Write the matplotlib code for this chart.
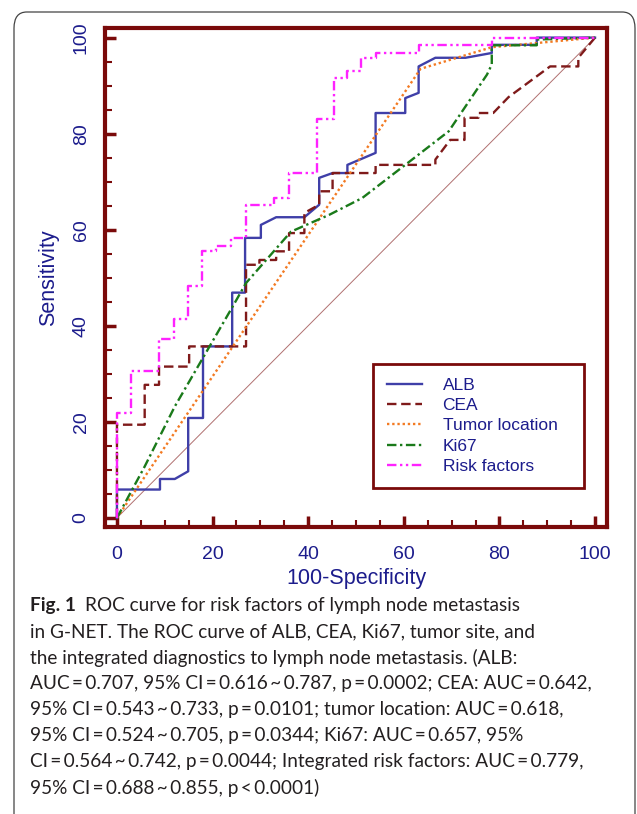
import numpy as np
import matplotlib.pyplot as plt
from matplotlib.patches import FancyBboxPatch

# ROC curves (x = 100-Specificity, y = Sensitivity)
alb_x = [0, 0, 9.0, 9.0, 12.1, 14.9, 14.9, 18.0, 18.0, 24.1, 24.1, 26.8, 26.8, 30.1, 30.1, 33.3, 39.2, 42.3, 42.3,
         45.1, 48.2, 48.2, 54.1, 54.1, 60.3, 60.3, 63.1, 63.1, 66.6, 72.9, 78.4, 78.4, 87.8, 87.8, 100]
alb_y = [0, 5.9, 5.9, 8.1, 8.1, 9.7, 20.8, 20.8, 35.7, 35.7, 46.9, 46.9, 58.3, 58.3, 61.0, 62.6, 62.6, 65.2, 70.8,
         71.8, 71.8, 73.5, 76.0, 84.3, 84.3, 87.4, 88.5, 94.0, 95.8, 95.8, 96.8, 98.5, 98.5, 100, 100]

cea_x = [0, 0, 5.8, 5.8, 8.8, 8.8, 15.1, 15.1, 27.0, 27.0, 29.8, 29.8, 33.3, 33.3, 36.0, 36.0, 39.2, 39.2, 42.3,
         42.3, 45.1, 45.1, 54.1, 54.1, 66.6, 66.6, 69.7, 72.7, 72.7, 75.6, 75.6, 78.7, 81.9, 90.6, 96.5, 96.5, 100]
cea_y = [0, 19.4, 19.4, 27.7, 27.7, 31.5, 31.5, 35.7, 35.7, 52.7, 52.7, 53.7, 53.7, 55.5, 55.5, 59.3, 59.3, 63.5,
         65.2, 68.0, 68.0, 71.8, 71.8, 73.5, 73.5, 74.6, 78.7, 78.7, 83.3, 83.3, 84.3, 84.3, 87.6, 94.0, 94.0, 95.8, 100]

tumor_x = [0, 63.5, 78.4, 100]
tumor_y = [0, 93.5, 98.0, 100]

ki67_x = [0, 5.8, 12.1, 24.2, 27.0, 36.4, 44.4, 51.3, 60.3, 69.4, 77.4, 78.4, 78.4, 87.8, 87.8, 100]
ki67_y = [0, 10.7, 23.2, 44.0, 48.9, 59.6, 63.1, 66.6, 73.5, 80.5, 92.3, 94.4, 98.4, 98.4, 99.6, 100]

risk_x = [0, 0, 2.85, 2.85, 8.8, 8.8, 11.9, 11.9, 14.9, 14.9, 17.8, 17.8, 20.8, 20.8, 23.9, 23.9, 27.0, 27.0, 32.9,
          32.9, 36.0, 36.0, 41.9, 41.9, 45.4, 45.4, 48.2, 48.2, 51.0, 51.0, 54.1, 54.1, 63.1, 63.1, 78.4, 78.4, 100]
risk_y = [0, 21.8, 21.8, 30.5, 30.5, 37.2, 37.2, 41.4, 41.4, 48.3, 48.3, 55.5, 55.5, 56.7, 56.7, 58.3, 58.3, 65.2,
          65.2, 66.5, 66.5, 71.8, 71.8, 83.1, 83.1, 91.6, 91.6, 93.0, 93.0, 95.8, 95.8, 96.8, 96.8, 98.5, 98.5, 100, 100]

caption = [
    "ROC curve for risk factors of lymph node metastasis",
    "in G-NET. The ROC curve of ALB, CEA, Ki67, tumor site, and",
    "the integrated diagnostics to lymph node metastasis. (ALB:",
    "AUC\u2009=\u20090.707, 95% CI\u2009=\u20090.616\u2009~\u20090.787, p\u2009=\u20090.0002; CEA: AUC\u2009=\u20090.642,",
    "95% CI\u2009=\u20090.543\u2009~\u20090.733, p\u2009=\u20090.0101; tumor location: AUC\u2009=\u20090.618,",
    "95% CI\u2009=\u20090.524\u2009~\u20090.705, p\u2009=\u20090.0344; Ki67: AUC\u2009=\u20090.657, 95%",
    "CI\u2009=\u20090.564\u2009~\u20090.742, p\u2009=\u20090.0044; Integrated risk factors: AUC\u2009=\u20090.779,",
    "95% CI\u2009=\u20090.688\u2009~\u20090.855, p\u2009<\u20090.0001)",
]

plt.rcParams['font.family'] = ['Liberation Sans', 'DejaVu Sans']
spine_col = '#7a0a0a'
txt_col = '#1c1c8c'

fig = plt.figure(figsize=(6.37, 8.14), dpi=100)

# rounded frame around the figure
frame = FancyBboxPatch((14 / 637, -0.05), 621 / 637, 1.05 - 12 / 814,
                       boxstyle="round,pad=0,rounding_size=0.02", transform=fig.transFigure,
                       fill=False, edgecolor='#444444', linewidth=0.9)
fig.patches.append(frame)

ax = fig.add_axes([105 / 637, 1 - 527 / 814, 502 / 637, 499 / 814])
ax.plot([0, 100], [0, 100], color='#b07070', linewidth=0.7)
ax.plot(alb_x, alb_y, color='#3f3fa8', linewidth=1.7, label='ALB')
ax.plot(cea_x, cea_y, color='#7f1a1a', linewidth=1.7, linestyle=(0, (4, 2)), label='CEA')
ax.plot(tumor_x, tumor_y, color='#f37a22', linewidth=1.7, linestyle=(0, (1, 1.2)), label='Tumor location')
ax.plot(ki67_x, ki67_y, color='#1a7a1a', linewidth=1.7, linestyle=(0, (4, 1.5, 1, 1.5)), label='Ki67')
ax.plot(risk_x, risk_y, color='#ff22ff', linewidth=1.7, linestyle=(0, (4, 1.5, 1, 1.5, 1, 1.5)), label='Risk factors')

ax.set_xlim(-2.5, 102.5)
ax.set_ylim(-1.9, 102)
ax.set_xticks(np.arange(0, 101, 20))
ax.set_yticks(np.arange(0, 101, 20))
ax.set_xticks(np.arange(0, 101, 5), minor=True)
ax.set_yticks(np.arange(0, 101, 5), minor=True)
ax.tick_params(which='both', direction='in', color=spine_col, labelcolor=txt_col, labelsize=14)
ax.tick_params(which='major', length=8, width=2.5)
ax.tick_params(which='minor', length=5, width=1.5)
ax.tick_params(axis='x', pad=14)
ax.tick_params(axis='y', pad=11)
for lab in ax.get_yticklabels():
    lab.set_rotation(90)
    lab.set_va('center')
for s in ax.spines.values():
    s.set_color(spine_col)
    s.set_linewidth(3)
ax.set_xlabel('100-Specificity', color=txt_col, fontsize=15.5, labelpad=3)
ax.set_ylabel('Sensitivity', color=txt_col, fontsize=15.5, labelpad=10)

leg = ax.legend(loc='lower left', bbox_to_anchor=(0.534, 0.078, 0.420, 0.2), mode='expand', borderaxespad=0,
                fontsize=12.5, fancybox=False, framealpha=1, edgecolor=spine_col, handlelength=2.0,
                labelspacing=0.3, borderpad=0.8, handletextpad=1.2)
leg.get_frame().set_linewidth(2)
for t in leg.get_texts():
    t.set_color(txt_col)

# caption
cap_fam = ['Lato', 'DejaVu Sans']
cap_col = '#231f20'
y0 = 1 - 606 / 814
fig.canvas.draw()
r = fig.canvas.get_renderer()
# pick a font size so the widest line spans about 560 px like the reference
probe = fig.text(0, 0, caption[3], fontsize=13, family=cap_fam)
w = probe.get_window_extent(r).width
probe.remove()
fs = 13 * 560 / w
head = fig.text(30 / 637, y0, "Fig. 1", fontsize=fs, fontweight='bold', va='center', family=cap_fam, color=cap_col)
hw = head.get_window_extent(r).width
fig.text((30 + hw + 9) / 637, y0, caption[0], fontsize=fs, va='center', family=cap_fam, color=cap_col)
for i, line in enumerate(caption[1:]):
    fig.text(30 / 637, y0 - (i + 1) * 26 / 814, line, fontsize=fs, va='center', family=cap_fam, color=cap_col)

fig.savefig('out.png', dpi=100)
